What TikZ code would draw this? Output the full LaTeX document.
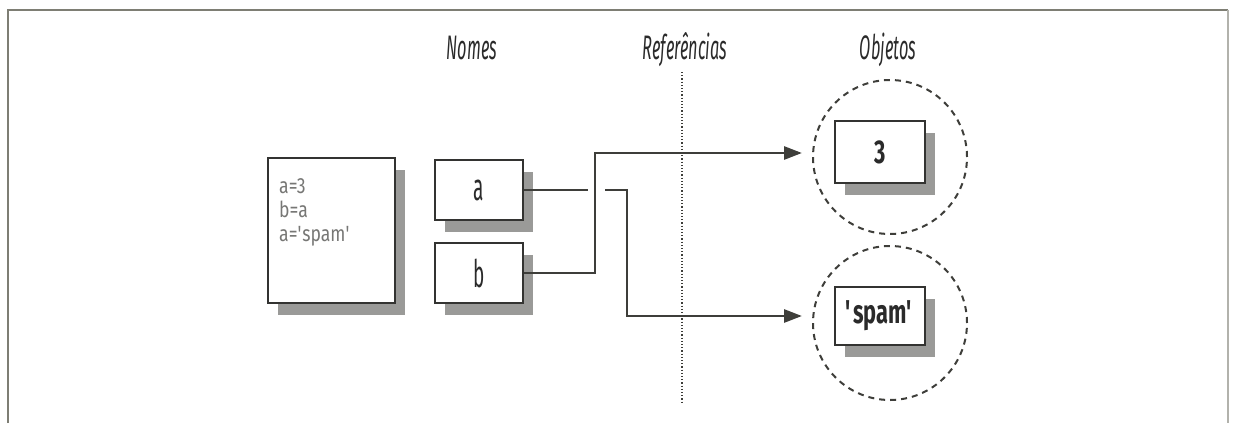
\documentclass[tikz,border=0pt]{standalone}
\usepackage{fontspec}
\usepackage{graphicx}
\setmainfont{Fira Sans}
\newfontfamily\lblfont{Fira Sans}[FakeStretch=0.48]
\newfontfamily\letfont{Fira Sans}[FakeStretch=0.5]
\newfontfamily\objfont{Fira Sans}[FakeStretch=0.66]
\newfontfamily\codefont{Fira Sans}[FakeStretch=0.8]
\usetikzlibrary{arrows.meta,shadows}
\definecolor{linec}{HTML}{3E3E3A}
\definecolor{boxc}{HTML}{333331}
\definecolor{shadowc}{HTML}{9A9A98}
\definecolor{txtc}{HTML}{2A2A2A}
\definecolor{codec}{HTML}{777775}
\definecolor{framec}{HTML}{7E7E74}
\tikzset{
  conn/.style={draw=linec, line width=2.8pt},
  arr/.style={-{Triangle[length=18pt,width=13pt]}},
  shbox/.style={draw=boxc, line width=1.8pt, fill=white, inner sep=0pt,
    drop shadow={shadow xshift=10pt, shadow yshift=-12pt, fill=shadowc, opacity=1}},
  namebox/.style={shbox, minimum width=88pt, minimum height=60pt,
    font=\letfont\fontsize{38}{40}\selectfont, text=txtc},
  objbox/.style={shbox, minimum width=90pt, minimum height=60pt,
    font=\objfont\bfseries\fontsize{33}{35}\selectfont, text=txtc},
  objcirc/.style={circle, draw=linec, line width=2pt, dash pattern=on 6pt off 5pt,
    minimum size=154pt, inner sep=0pt},
  lbl/.style={font=\lblfont\itshape\fontsize{34}{36}\selectfont, text=txtc, inner sep=0pt},
}
\begin{document}
\begin{tikzpicture}[x=1pt,y=-1pt]
\useasboundingbox (0,0) rectangle (1236,423);
% frame
\coordinate (fBL) at (8,423);
\coordinate (fTL) at (8,10);
\coordinate (fTR) at (1228,10);
\coordinate (fBR) at (1228,423);
\draw[draw=framec, line width=2.2pt] (fBL) -- (fTL) -- (fTR);
\draw[draw=framec!60, line width=2.2pt] (fTR) -- (fBR);
% labels
\node[lbl] (lblNomes) at (472,48) {Nomes};
\node[lbl] (lblRef) at (685,50) {Referências};
\node[lbl] (lblObj) at (888,50) {Objetos};
% dotted reference line
\coordinate (refTop) at (682,72);
\coordinate (refBot) at (682,402);
\draw[draw=linec, line width=1.4pt, dash pattern=on 1.2pt off 2pt] (refTop) -- (refBot);
% object circles
\node[objcirc] (c1) at (890,157) {};
\node[objcirc] (c2) at (890,323) {};
% code box
\node[shbox, minimum width=127pt, minimum height=145pt] (code) at (331.5,230.5) {};
\node[anchor=north west, inner sep=0pt, align=left, text=codec,
  font=\codefont\fontsize{22}{24}\selectfont] (codetxt) at (279,178)
  {a=3\\b=a\\a=\textquotesingle spam\textquotesingle};
% name boxes
\node[namebox] (boxa) at (479,190) {a};
\node[namebox] (boxb) at (479,273) {b};
% object boxes
\node[objbox, minimum height=62pt] (obj3) at (880,152) {3};
\node[objbox, minimum height=58pt] (objspam) at (880,316) {\textquotesingle spam\textquotesingle};
% connectors
\coordinate (aGap) at (588,190);
\coordinate (aRe) at (605,190);
\coordinate (aCol) at (627,316);
\coordinate (tipS) at (802,316);
\coordinate (bCol) at (595,153);
\coordinate (tip3) at (802,153);
\draw[conn] (boxa.east) -- (aGap);
\draw[conn, arr] (aRe) -| (aCol) -- (tipS);
\draw[conn, arr] (boxb.east) -| (bCol) -- (tip3);
\end{tikzpicture}
\end{document}
